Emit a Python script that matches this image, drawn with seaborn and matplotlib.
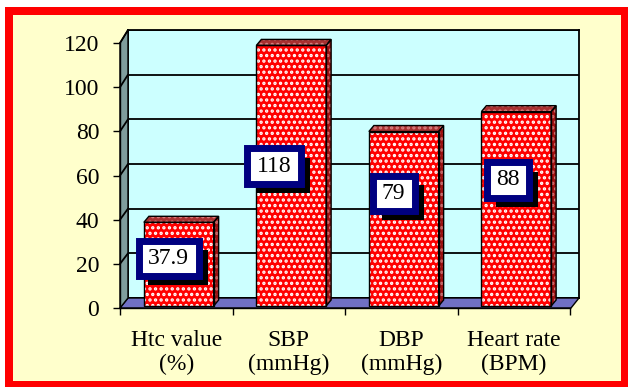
import matplotlib
matplotlib.use("Agg")
import matplotlib.pyplot as plt
import pandas as pd
import seaborn as sns
from matplotlib.patches import Rectangle, Polygon
from matplotlib.transforms import ScaledTranslation, IdentityTransform
from matplotlib.path import Path
import matplotlib.patheffects as pe

# Data
categories = ["Htc value\n(%)", "SBP\n(mmHg)", "DBP\n(mmHg)", "Heart rate\n(BPM)"]
values = [37.9, 118, 79, 88]
value_labels = ["37.9", "118", "79", "88"]
y_ticks = [0, 20, 40, 60, 80, 100, 120]

# Label anchor placement (offset from bar centre, height on value axis)
label_dx = [-0.067, -0.129, -0.067, -0.053]
label_y = [22.6, 64.3, 51.9, 58.0]

W, H, DPI = 628, 387, 100
FS = 17

sns.set_theme(style="white")
plt.rcParams["font.family"] = ["Liberation Serif", "DejaVu Serif"]
plt.rcParams["hatch.linewidth"] = 1.6

fig = plt.figure(figsize=(W / DPI, H / DPI), dpi=DPI, facecolor="white")


def px_rect(x0, y0, x1, y1):
    """Pixel box (top-left origin) -> figure fraction [l, b, w, h]."""
    return [x0 / W, 1 - y1 / H, (x1 - x0) / W, (y1 - y0) / H]


def disp(pts):
    """Pixel points (top-left origin) -> display coordinates."""
    return [(x, H - y) for x, y in pts]


# Yellow panel with thick red frame
fig.add_artist(Rectangle((9, H - 385), 616, 374, transform=IdentityTransform(),
                         facecolor="#FFFFCC", edgecolor="#FF0000",
                         linewidth=8 * 72 / DPI, zorder=-5))

# Back wall
back = fig.add_axes(px_rect(128, 30, 579, 298), zorder=0)
back.set_facecolor("#CCFFFF")
back.set_xlim(0, 1)
back.set_ylim(0, 120)
back.set_yticks(y_ticks)
back.grid(axis="y", color="black", linewidth=1.3)
back.tick_params(left=False, bottom=False, labelleft=False, labelbottom=False)
for s in back.spines.values():
    s.set_color("black")
    s.set_linewidth(1.3)

# Floor and side wall
fig.add_artist(Polygon(disp([(120, 308), (571, 308), (579, 298), (128, 298)]),
                       closed=True, transform=IdentityTransform(),
                       facecolor="#7070C4", edgecolor="black", linewidth=1, zorder=0.5))
fig.add_artist(Polygon(disp([(120, 308), (120, 43), (128, 30), (128, 298)]),
                       closed=True, transform=IdentityTransform(),
                       facecolor="#7F9D9D", edgecolor="black", linewidth=1, zorder=0.5))

# Front axes carrying the bars, ticks and labels
ax = fig.add_axes(px_rect(120, 43, 570, 308), zorder=1)
ax.patch.set_alpha(0)
df = pd.DataFrame({"measure": categories, "value": values})
sns.barplot(data=df, x="measure", y="value", ax=ax, width=0.62, color="#FF0000",
            saturation=1, edgecolor="white", linewidth=0, errorbar=None)
ax.set_xlim(-0.5, 3.5)
ax.set_ylim(0, 120)
ax.set_xlabel("")
ax.set_ylabel("")

# gridline bevels along the side wall
for v in y_ticks[1:]:
    yb = 298 - v * (298 - 30) / 120
    yf = 308 - v * (308 - 43) / 120
    fig.add_artist(plt.Line2D([120, 128], [H - yf, H - yb], transform=IdentityTransform(),
                              color="black", linewidth=1.3, zorder=0.6))

shift = ScaledTranslation(2.5 / DPI, 2 / DPI, fig.dpi_scale_trans)
bar_tr = ax.transData + shift
ddx, ddy = 5, 6
for bar in ax.patches[:len(values)]:
    bar.set_transform(bar_tr)
    bar.set_hatch("...")
    bar.set_clip_on(False)
    x0, w, h = bar.get_x(), bar.get_width(), bar.get_height()
    (px0, py0), (px1, py1) = bar_tr.transform([(x0, 0), (x0 + w, h)])
    side = [(px1, py0), (px1, py1), (px1 + ddx, py1 + ddy), (px1 + ddx, py0 + ddy)]
    top = [(px0, py1), (px1, py1), (px1 + ddx, py1 + ddy), (px0 + ddx, py1 + ddy)]
    for pts, fc, hc in [(side, "#A01010", "#D07070"), (top, "#A83030", "#D88080")]:
        face = Polygon(pts, closed=True, transform=IdentityTransform(), facecolor=fc,
                       edgecolor=hc, linewidth=0, hatch="...", zorder=2)
        ax.add_patch(face)
        face.set_clip_on(False)
        edge = Polygon(pts, closed=True, transform=IdentityTransform(), fill=False,
                       edgecolor="black", linewidth=1, zorder=2.1)
        ax.add_patch(edge)
        edge.set_clip_on(False)
    outline = Rectangle((x0, 0), w, h, transform=bar_tr, fill=False,
                        edgecolor="black", linewidth=1, zorder=2.1)
    ax.add_patch(outline)
    outline.set_clip_on(False)

# Ticks
ax.set_yticks(y_ticks)
ax.set_yticklabels([str(t) for t in y_ticks])
ax.set_xticks(range(len(categories)))
ax.set_xticklabels(categories, linespacing=1.15)
ax.set_xticks([i - 0.5 for i in range(len(categories) + 1)], minor=True)
ax.tick_params(axis="x", which="major", length=0, pad=16, labelsize=FS, labelcolor="black")
ax.tick_params(axis="x", which="minor", length=5, width=1, direction="out", color="black",
               bottom=True)
ax.tick_params(axis="y", length=5, width=1, direction="out", color="black", left=True,
               pad=10, labelsize=FS, labelcolor="black")
for side_name in ("top", "right"):
    ax.spines[side_name].set_visible(False)
for side_name in ("left", "bottom"):
    ax.spines[side_name].set_color("black")
    ax.spines[side_name].set_linewidth(1)


def label_box(x0, y0, width, height, mutation_size):
    px, py = 0.40 * mutation_size, 0.30 * mutation_size
    x0, y0 = x0 - px, y0 - py
    x1, y1 = x0 + width + 2 * px, y0 + height + 2 * py
    return Path([(x0, y0), (x1, y0), (x1, y1), (x0, y1), (x0, y0)],
                [Path.MOVETO, Path.LINETO, Path.LINETO, Path.LINETO, Path.CLOSEPOLY])


# Value labels: navy-framed boxes with a drop shadow
for i, (txt, dx, ly) in enumerate(zip(value_labels, label_dx, label_y)):
    t = ax.text(i + dx, ly, txt, ha="center", va="center", fontsize=FS, color="black",
                zorder=6, clip_on=False,
                bbox=dict(boxstyle=label_box, facecolor="white", edgecolor="#000080",
                          linewidth=5))
    t.get_bbox_patch().set_path_effects([
        pe.SimplePatchShadow(offset=(6.8, -6.8), shadow_rgbFace="black", alpha=1.0),
        pe.Normal(),
    ])

fig.savefig("out.png", dpi=DPI, facecolor="white")
